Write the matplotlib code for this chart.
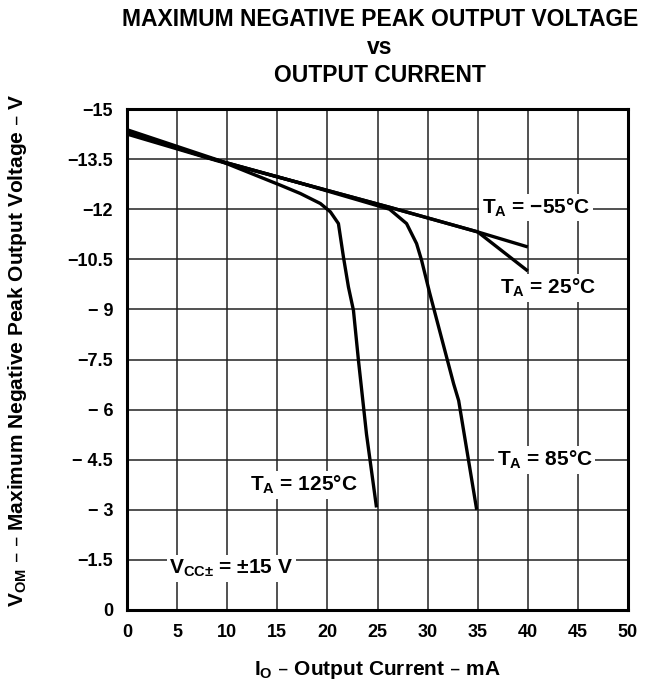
import matplotlib
matplotlib.use("Agg")
import matplotlib.pyplot as plt

plt.rcParams['font.family'] = ['Liberation Sans', 'DejaVu Sans']
plt.rcParams['font.weight'] = 'bold'
plt.rcParams['mathtext.default'] = 'regular'

# Data (I_O in mA, V_OM in V)
i_m55 = [0, 9, 17.2, 26.3, 35, 40]
v_m55 = [-14.25, -13.45, -12.79, -12.05, -11.32, -10.87]

i_25 = [0, 8, 17.2, 26.3, 35, 40]
v_25 = [-14.33, -13.55, -12.79, -12.05, -11.32, -10.15]

i_85 = [0, 8, 17.2, 26.2, 27.9, 28.9, 29.4, 30.2, 32.6, 33.1, 34.9]
v_85 = [-14.3, -13.55, -12.79, -12.0, -11.57, -10.97, -10.47, -9.5, -6.77, -6.27, -3.0]

i_125 = [0, 9, 15.3, 17.3, 19.3, 20.3, 21.1, 21.6, 22.1, 22.6, 23.1, 23.9, 24.9]
v_125 = [-14.38, -13.48, -12.72, -12.47, -12.17, -11.92, -11.57, -10.57, -9.67, -8.97, -7.47, -5.27, -3.07]

x_ticks = [0, 5, 10, 15, 20, 25, 30, 35, 40, 45, 50]
y_ticks = [-15, -13.5, -12, -10.5, -9, -7.5, -6, -4.5, -3, -1.5, 0]
y_tick_labels = ["\u221215", "\u221213.5", "\u221212", "\u221210.5", "\u2212 9", "\u22127.5",
                 "\u2212 6", "\u2212 4.5", "\u2212 3", "\u22121.5", "0"]

fig = plt.figure(figsize=(6.62, 6.85), dpi=100)
ax = fig.add_axes([127/662, 1-610/685, (628-127)/662, (610-109)/685])

for xs, ys in [(i_m55, v_m55), (i_25, v_25), (i_85, v_85), (i_125, v_125)]:
    ax.plot(xs, ys, color='black', lw=2.4, solid_joinstyle='round', solid_capstyle='butt', zorder=3)

ax.set_xlim(0, 50)
ax.set_ylim(0, -15)
ax.set_xticks(x_ticks)
ax.set_xticklabels([str(v) for v in x_ticks])
ax.set_yticks(y_ticks)
ax.set_yticklabels(y_tick_labels)
ax.tick_params(length=0, labelsize=13, pad=10)
ax.tick_params(axis='x', pad=10)
for lbl in ax.get_xticklabels() + ax.get_yticklabels():
    lbl.set_fontweight('bold')
ax.grid(True, color='#222222', lw=1.1, zorder=1)
for sp in ax.spines.values():
    sp.set_linewidth(2.2)
    sp.set_zorder(4)

box = dict(facecolor='white', edgecolor='none', pad=2)
tkw = dict(fontsize=15, fontweight='bold', ha='center', va='center', bbox=box, zorder=5)
ax.text(40.8, -12.05, "T$_A$ = \u221255\u00b0C", **tkw)
ax.text(42.0, -9.65, "T$_A$ = 25\u00b0C", **tkw)
ax.text(41.7, -4.5, "T$_A$ = 85\u00b0C", **tkw)
ax.text(17.6, -3.75, "T$_A$ = 125\u00b0C", **tkw)
ax.text(10.4, -1.25, "V$_{CC\u00b1}$ = \u00b115 V", **tkw)

ax.set_xlabel("I$_O$ \u2013 Output Current \u2013 mA", fontsize=15, fontweight='bold', labelpad=13)
ax.set_ylabel("V$_{OM}$ \u2013 \u2013 Maximum Negative Peak Output Voltage \u2013 V",
              fontsize=15, fontweight='bold')
ax.yaxis.set_label_coords((29-127)/501, (610-350)/501)

fig.text(380/662, 1-20/685, "MAXIMUM NEGATIVE PEAK OUTPUT VOLTAGE", fontsize=16.5, fontweight='bold', ha='center', va='center')
fig.text(380/662, 1-48/685, "vs", fontsize=16.5, fontweight='bold', ha='center', va='center')
fig.text(380/662, 1-75/685, "OUTPUT CURRENT", fontsize=16.5, fontweight='bold', ha='center', va='center')

fig.savefig("out.png", dpi=100)
